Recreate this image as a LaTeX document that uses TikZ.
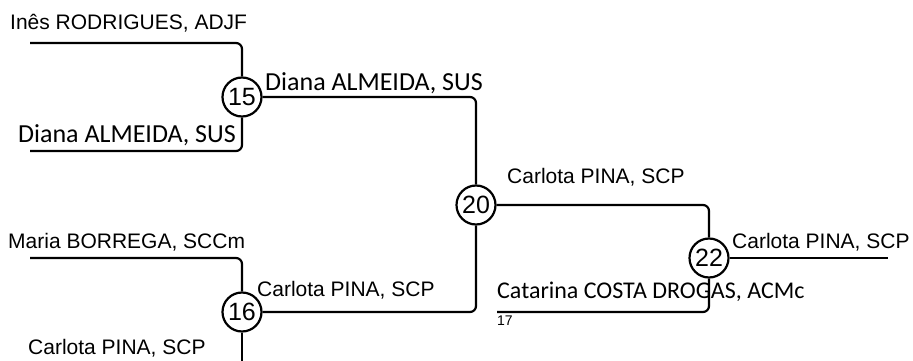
\documentclass[tikz,border=0pt]{standalone}
\usepackage{fontspec}
\setmainfont{Liberation Sans}
\newfontfamily\carl{Carlito}
\tikzset{
  x=1pt, y=-1pt,
  conn/.style={line width=2.2pt, rounded corners=6pt},
  match/.style={circle, draw, line width=2.2pt, fill=white, minimum size=39pt, inner sep=0pt, font=\fontsize{25}{25}\selectfont},
  lbl/.style={anchor=base west, inner sep=0pt, font=\fontsize{21}{25}\selectfont},
  clbl/.style={anchor=base west, inner sep=0pt, font=\carl\fontsize{26}{30}\selectfont},
  clbls/.style={anchor=base west, inner sep=0pt, font=\carl\fontsize{24}{28}\selectfont},
  small/.style={anchor=base west, inner sep=0pt, font=\fontsize{14}{16}\selectfont}
}
\begin{document}
\begin{tikzpicture}
\useasboundingbox (0,0) rectangle (913,361);
% match nodes
\node[match] (n15) at (242,97) {15};
\node[match] (n16) at (242,312) {16};
\node[match] (n20) at (476,205) {20};
\node[match] (n22) at (709,258) {22};
% free ends
\coordinate (a1) at (30,43);
\coordinate (a2) at (30,151);
\coordinate (b1) at (30,258);
\coordinate (b2) at (242,361);
\coordinate (c1) at (497,312);
\coordinate (d) at (888,258);
% connectors
\draw[conn] (a1) -| (n15.north);
\draw[conn] (a2) -| (n15.south);
\draw[conn] (b1) -| (n16.north);
\draw[conn] (n16.south) -- (b2);
\draw[conn] (n15.east) -| (n20.north);
\draw[conn] (n16.east) -| (n20.south);
\draw[conn] (n20.east) -| (n22.north);
\draw[conn] (c1) -| (n22.south);
\draw[conn] (n22.east) -- (d);
% labels
\node[lbl] (t1) at (10,30) {Inês RODRIGUES, ADJF};
\node[clbl] (t2) at (18,142) {Diana ALMEIDA, SUS};
\node[clbl] (t3) at (265,91) {Diana ALMEIDA, SUS};
\node[lbl] (t4) at (8,248) {Maria BORREGA, SCCm};
\node[lbl] (t5) at (28,354) {Carlota PINA, SCP};
\node[lbl] (t6) at (257,296) {Carlota PINA, SCP};
\node[lbl] (t7) at (507,183) {Carlota PINA, SCP};
\node[lbl] (t8) at (732,248) {Carlota PINA, SCP};
\node[clbls] (t9) at (497,298) {Catarina COSTA DROGAS, ACMc};
\node[small] (t10) at (497,325) {17};
\end{tikzpicture}
\end{document}
